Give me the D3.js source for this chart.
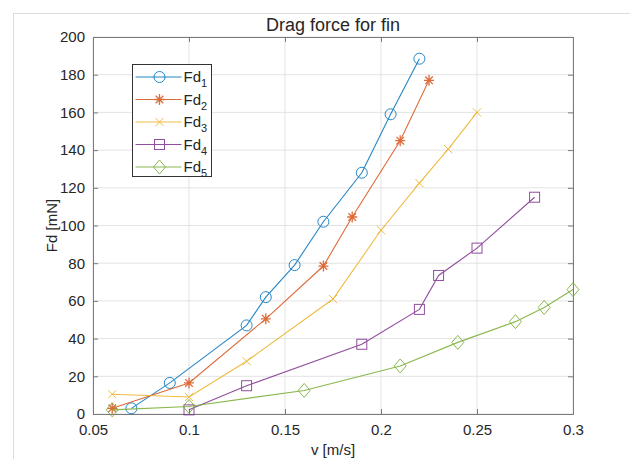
<!DOCTYPE html>
<html>
<head>
<meta charset="utf-8">
<script src="https://cdn.jsdelivr.net/npm/d3@7"></script>
<style>
  body { margin: 0; background: #fff; }
  text { font-family: "Liberation Sans", Arial, sans-serif; fill: #262626; }
</style>
</head>
<body>
<div id="chart"></div>
<script>
// data
var names = ["1", "2", "3", "4", "5"];
var fd1X = [0.07, 0.09, 0.13, 0.14, 0.155, 0.17, 0.19, 0.205, 0.22];
var fd1Y = [3.0, 16.5, 47, 62, 79, 102, 128, 159, 188.5];
var fd2X = [0.06, 0.1, 0.14, 0.17, 0.185, 0.21, 0.225];
var fd2Y = [3.0, 16.5, 50.5, 78.5, 104.5, 145, 177];
var fd3X = [0.06, 0.1, 0.13, 0.175, 0.2, 0.22, 0.235, 0.25];
var fd3Y = [10.5, 9, 28, 61, 97.5, 122.5, 140.5, 160];
var fd4X = [0.1, 0.13, 0.19, 0.22, 0.23, 0.25, 0.28];
var fd4Y = [2.2, 15, 37, 55.5, 73.5, 88, 115];
var fd5X = [0.06, 0.1, 0.16, 0.21, 0.24, 0.27, 0.285, 0.3];
var fd5Y = [2.2, 4, 12.5, 25.5, 38, 49, 56.5, 66];
var xTicks = [0.05, 0.1, 0.15, 0.2, 0.25, 0.3];
var yTicks = [0, 20, 40, 60, 80, 100, 120, 140, 160, 180, 200];

var colors = ["#0072BD", "#D95319", "#EDB120", "#7E2F8E", "#77AC30"];
var markers = ["circle", "star", "cross", "square", "diamond"];

var series = [
  { x: fd1X, y: fd1Y },
  { x: fd2X, y: fd2Y },
  { x: fd3X, y: fd3Y },
  { x: fd4X, y: fd4Y },
  { x: fd5X, y: fd5Y }
];

var svgWidth = 630;
var svgHeight = 459;
var margin = { top: 37, right: 57, bottom: 45, left: 93 };
var width = svgWidth - margin.left - margin.right;
var height = svgHeight - margin.top - margin.bottom;

var svg = d3.select("#chart")
  .append("svg")
  .attr("width", svgWidth)
  .attr("height", svgHeight);

// figure frame
svg.append("rect")
  .attr("x", 13.5).attr("y", 13.5)
  .attr("width", 700).attr("height", 700)
  .attr("fill", "none")
  .attr("stroke", "#dcdcdc");

var chartGroup = svg.append("g")
  .attr("transform", `translate(${margin.left}, ${margin.top})`);

var xScale = d3.scaleLinear().domain([0.05, 0.3]).range([0, width]);
var yScale = d3.scaleLinear().domain([0, 200]).range([height, 0]);

// grid
chartGroup.append("g")
  .selectAll("line")
  .data(xTicks)
  .enter()
  .append("line")
  .attr("x1", d => xScale(d)).attr("x2", d => xScale(d))
  .attr("y1", 0).attr("y2", height)
  .attr("stroke", "#e3e3e3");

chartGroup.append("g")
  .selectAll("line")
  .data(yTicks)
  .enter()
  .append("line")
  .attr("x1", 0).attr("x2", width)
  .attr("y1", d => yScale(d)).attr("y2", d => yScale(d))
  .attr("stroke", "#e3e3e3");

// axes (ticks inward on all four sides)
var tickLen = 5;
var bottomAxis = d3.axisBottom(xScale).tickValues(xTicks).tickSize(-tickLen).tickPadding(10).tickFormat(d3.format("~g"));
var topAxis = d3.axisTop(xScale).tickValues(xTicks).tickSize(-tickLen).tickFormat("");
var leftAxis = d3.axisLeft(yScale).tickValues(yTicks).tickSize(-tickLen).tickPadding(8);
var rightAxis = d3.axisRight(yScale).tickValues(yTicks).tickSize(-tickLen).tickFormat("");

function styleAxis(g) {
  g.select(".domain").attr("stroke", "#7a7a7a");
  g.selectAll(".tick line").attr("stroke", "#7a7a7a");
  g.selectAll(".tick text").attr("font-size", "15px").attr("fill", "#262626")
    .style("font-family", '"Liberation Sans", Arial, sans-serif');
}

chartGroup.append("g").attr("transform", `translate(0, ${height})`).call(bottomAxis).call(styleAxis);
chartGroup.append("g").call(topAxis).call(styleAxis);
chartGroup.append("g").call(leftAxis).call(styleAxis);
chartGroup.append("g").attr("transform", `translate(${width}, 0)`).call(rightAxis).call(styleAxis);

// markers
function drawMarker(g, type, color) {
  if (type === "circle") {
    g.append("circle").attr("r", 5.5).attr("fill", "none").attr("stroke", color);
  } else if (type === "star") {
    g.append("path").attr("d", "M-5,0H5M0,-5.5V5.5M-3.8,-3.8L3.8,3.8M-3.8,3.8L3.8,-3.8")
      .attr("stroke", color).attr("stroke-width", 1.3);
  } else if (type === "cross") {
    g.append("path").attr("d", "M-4,-4L4,4M-4,4L4,-4").attr("stroke", color);
  } else if (type === "square") {
    g.append("rect").attr("x", -5).attr("y", -5).attr("width", 10).attr("height", 10)
      .attr("fill", "none").attr("stroke", color);
  } else if (type === "diamond") {
    g.append("path").attr("d", "M0,-7L6,0L0,7L-6,0Z").attr("fill", "none").attr("stroke", color);
  }
}

var line = d3.line().x(d => xScale(d[0])).y(d => yScale(d[1]));

series.forEach(function(s, i) {
  var pts = s.x.map((v, j) => [v, s.y[j]]);
  var sg = chartGroup.append("g").attr("opacity", 0.85);
  sg.append("path")
    .datum(pts)
    .attr("d", line)
    .attr("fill", "none")
    .attr("stroke", colors[i])
    .attr("stroke-width", 1.1);
  pts.forEach(function(p) {
    var g = sg.append("g").attr("transform", `translate(${xScale(p[0])}, ${yScale(p[1])})`);
    drawMarker(g, markers[i], colors[i]);
  });
});

// title and axis labels
svg.append("text")
  .attr("x", margin.left + width / 2).attr("y", 31)
  .attr("text-anchor", "middle")
  .attr("font-size", "18px")
  .text("Drag force for fin");

svg.append("text")
  .attr("x", margin.left + width / 2).attr("y", 455)
  .attr("text-anchor", "middle")
  .attr("font-size", "15px")
  .text("v [m/s]");

svg.append("text")
  .attr("transform", `translate(57, ${margin.top + height / 2}) rotate(-90)`)
  .attr("text-anchor", "middle")
  .attr("font-size", "15px")
  .text("Fd [mN]");

// legend
var legend = svg.append("g").attr("transform", "translate(132.5, 64.5)");
legend.append("rect")
  .attr("width", 79).attr("height", 112)
  .attr("fill", "#fff")
  .attr("stroke", "#333");

names.forEach(function(n, i) {
  var yy = 12.5 + i * 22.5;
  var lg = legend.append("g").attr("opacity", 0.85);
  lg.append("line")
    .attr("x1", 3).attr("x2", 49).attr("y1", yy).attr("y2", yy)
    .attr("stroke", colors[i]).attr("stroke-width", 1.1);
  var g = lg.append("g").attr("transform", `translate(27, ${yy})`);
  drawMarker(g, markers[i], colors[i]);
  var t = legend.append("text")
    .attr("x", 51).attr("y", yy + 5)
    .attr("font-size", "15px");
  t.append("tspan").text("Fd");
  t.append("tspan").attr("dy", 5).attr("font-size", "11px").text(n);
});
</script>
</body>
</html>
